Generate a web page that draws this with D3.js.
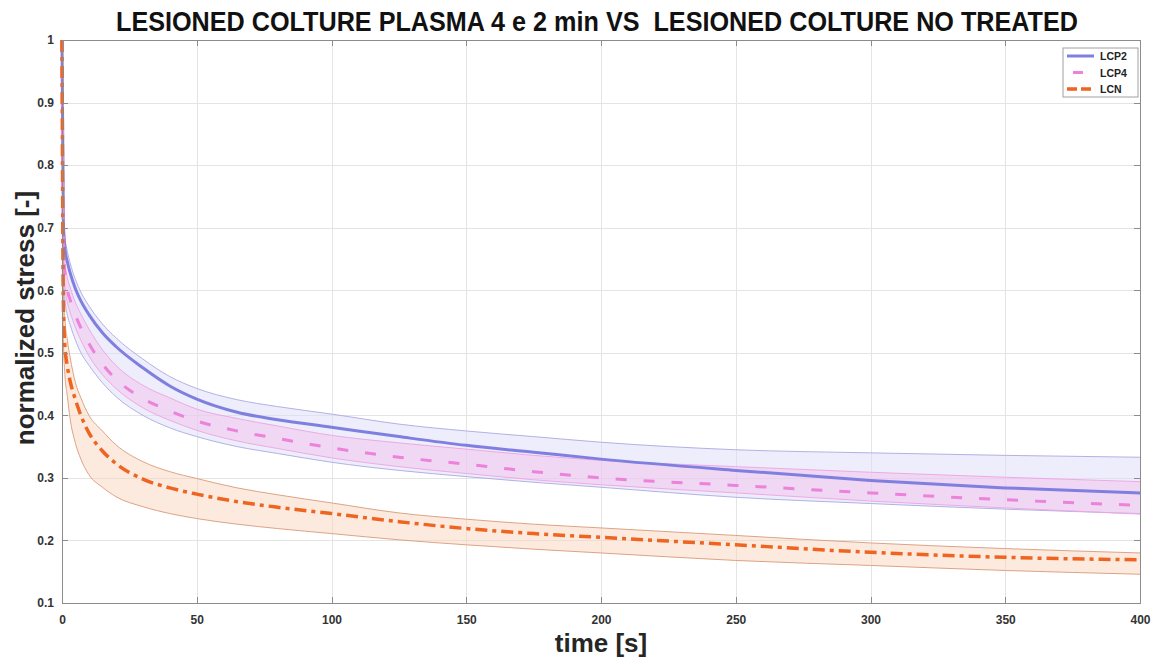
<!DOCTYPE html>
<meta charset="utf-8">
<script src="https://d3js.org/d3.v7.min.js"></script>
<style>
body { margin: 0; background: #fff; }
.grid line { stroke: #e4e4e4; shape-rendering: crispEdges; }
.grid path { stroke-width: 0; }
.axis path, .axis line { stroke: #8c8c8c; shape-rendering: crispEdges; }
.axis text { font-family: "Liberation Sans", Arial, sans-serif; font-weight: bold; font-size: 12px; fill: #333; }
</style>
<body>
<script>
// time samples [s]
var time = [0, 0.5, 1, 2, 3, 5, 7, 10, 15, 20, 30, 40, 50, 65, 80, 100, 125, 150, 175, 200, 250, 300, 350, 400];

// LCP2 (plasma 2 min)
var lcp2Mean  = [1.0, 0.71, 0.67, 0.645, 0.628, 0.602, 0.583, 0.561, 0.532, 0.51, 0.476, 0.447, 0.426, 0.405, 0.393, 0.381, 0.366, 0.352, 0.341, 0.330, 0.312, 0.296, 0.284, 0.276];
var lcp2Upper = [1.0, 0.73, 0.69, 0.662, 0.644, 0.617, 0.597, 0.575, 0.546, 0.524, 0.49, 0.462, 0.443, 0.425, 0.414, 0.402, 0.386, 0.375, 0.366, 0.357, 0.345, 0.340, 0.336, 0.333];
var lcp2Lower = [1.0, 0.64, 0.59, 0.56, 0.545, 0.52, 0.5, 0.48, 0.452, 0.43, 0.4, 0.38, 0.366, 0.35, 0.339, 0.325, 0.312, 0.302, 0.293, 0.285, 0.269, 0.259, 0.25, 0.243];

// LCP4 (plasma 4 min)
var lcp4Mean  = [1.0, 0.69, 0.63, 0.60, 0.585, 0.56, 0.54, 0.515, 0.482, 0.458, 0.427, 0.407, 0.391, 0.375, 0.363, 0.348, 0.333, 0.322, 0.31, 0.300, 0.288, 0.276, 0.265, 0.256];
var lcp4Upper = [1.0, 0.71, 0.65, 0.62, 0.605, 0.58, 0.562, 0.538, 0.505, 0.48, 0.448, 0.428, 0.41, 0.395, 0.383, 0.368, 0.356, 0.346, 0.336, 0.328, 0.318, 0.309, 0.301, 0.294];
var lcp4Lower = [1.0, 0.67, 0.61, 0.58, 0.565, 0.54, 0.52, 0.495, 0.465, 0.443, 0.412, 0.392, 0.376, 0.359, 0.347, 0.332, 0.318, 0.307, 0.297, 0.289, 0.276, 0.263, 0.252, 0.242];

// LCN (not treated)
var lcnMean  = [1.0, 0.58, 0.515, 0.478, 0.455, 0.425, 0.4, 0.372, 0.343, 0.323, 0.298, 0.284, 0.274, 0.262, 0.253, 0.243, 0.23, 0.219, 0.211, 0.205, 0.193, 0.181, 0.173, 0.169];
var lcnUpper = [1.0, 0.61, 0.56, 0.52, 0.493, 0.452, 0.428, 0.4, 0.375, 0.353, 0.326, 0.31, 0.299, 0.284, 0.273, 0.26, 0.244, 0.234, 0.226, 0.22, 0.208, 0.196, 0.187, 0.18];
var lcnLower = [1.0, 0.52, 0.47, 0.43, 0.395, 0.355, 0.33, 0.305, 0.285, 0.27, 0.254, 0.243, 0.235, 0.226, 0.219, 0.211, 0.201, 0.193, 0.186, 0.18, 0.168, 0.16, 0.152, 0.146];

var xTicks = [0, 50, 100, 150, 200, 250, 300, 350, 400];
var yTicks = [0.1, 0.2, 0.3, 0.4, 0.5, 0.6, 0.7, 0.8, 0.9, 1];
var seriesNames = ["LCP2", "LCP4", "LCN"];

var margin = {top: 40, right: 22, bottom: 61, left: 62};
var width = 1162 - margin.left - margin.right;
var height = 664 - margin.top - margin.bottom;

var svg = d3.select("body").append("svg")
    .attr("width", 1162)
    .attr("height", 664);
var g = svg.append("g")
    .attr("transform", "translate(" + margin.left + "," + margin.top + ")");

var x = d3.scaleLinear().domain([0, 400]).range([0, width]);
var y = d3.scaleLinear().domain([0.1, 1]).range([height, 0]);

// grid
g.append("g").attr("class", "grid")
    .attr("transform", "translate(0," + height + ")")
    .call(d3.axisBottom(x).tickValues(xTicks).tickSize(-height).tickFormat(""));
g.append("g").attr("class", "grid")
    .call(d3.axisLeft(y).tickValues(yTicks).tickSize(-width).tickFormat(""));

g.append("clipPath").attr("id", "clip")
    .append("rect").attr("x", -2).attr("y", -2).attr("width", width + 2).attr("height", height + 2);

var plot = g.append("g").attr("clip-path", "url(#clip)");

function band(upper, lower) {
    return d3.area()
        .x(function(d, i) { return x(time[i]); })
        .y0(function(d, i) { return y(lower[i]); })
        .y1(function(d, i) { return y(upper[i]); })
        .curve(d3.curveMonotoneX)(time);
}
function line(vals) {
    return d3.line()
        .x(function(d, i) { return x(time[i]); })
        .y(function(d, i) { return y(vals[i]); })
        .curve(d3.curveMonotoneX)(time);
}

var bands = [
    {up: lcp2Upper, lo: lcp2Lower, fill: "#dcdcf7", edge: "#a9a9e3", op: 0.5},
    {up: lcp4Upper, lo: lcp4Lower, fill: "#f5bdec", edge: "#eea3e2", op: 0.45},
    {up: lcnUpper, lo: lcnLower, fill: "#fbd6bf", edge: "#d89a78", op: 0.5}
];
bands.forEach(function(b) {
    plot.append("path").attr("d", band(b.up, b.lo))
        .attr("fill", b.fill).attr("fill-opacity", b.op).attr("stroke", "none");
    plot.append("path").attr("d", line(b.up))
        .attr("fill", "none").attr("stroke", b.edge).attr("stroke-width", 0.9);
    plot.append("path").attr("d", line(b.lo))
        .attr("fill", "none").attr("stroke", b.edge).attr("stroke-width", 0.9);
});

var lines = [
    {vals: lcp2Mean, color: "#7f7fe0", dash: null, w: 3},
    {vals: lcp4Mean, color: "#ec82d9", dash: "11,17", w: 3},
    {vals: lcnMean, color: "#ee6420", dash: "12,5,4,5", w: 3.5}
];
lines.forEach(function(l) {
    plot.append("path").attr("d", line(l.vals))
        .attr("fill", "none").attr("stroke", l.color)
        .attr("stroke-width", l.w)
        .attr("stroke-dasharray", l.dash);
});

// axes (box with inward ticks)
var xAx = g.append("g").attr("class", "axis")
    .attr("transform", "translate(0," + height + ")")
    .call(d3.axisBottom(x).tickValues(xTicks).tickSizeInner(-6).tickSizeOuter(0).tickPadding(12));
xAx.selectAll("text").attr("dy", "0.71em");
g.append("g").attr("class", "axis")
    .call(d3.axisTop(x).tickValues(xTicks).tickSizeInner(-6).tickSizeOuter(0).tickFormat(""));
var yAx = g.append("g").attr("class", "axis")
    .call(d3.axisLeft(y).tickValues(yTicks).tickSizeInner(-6).tickSizeOuter(0).tickPadding(8)
        .tickFormat(function(d) { return d === 1 ? "1" : d3.format(".1f")(d); }));
g.append("g").attr("class", "axis")
    .attr("transform", "translate(" + width + ",0)")
    .call(d3.axisRight(y).tickValues(yTicks).tickSizeInner(-6).tickSizeOuter(0).tickFormat(""));

// legend
var leg = g.append("g").attr("transform", "translate(" + (width - 77) + ",8)");
leg.append("rect").attr("width", 75).attr("height", 49)
    .attr("fill", "#fff").attr("stroke", "#a0a0a0").attr("stroke-width", 1);
lines.forEach(function(l, i) {
    var yy = 8 + i * 16.5;
    leg.append("line").attr("x1", 4).attr("x2", 31).attr("y1", yy).attr("y2", yy)
        .attr("stroke", l.color).attr("stroke-width", l.w)
        .attr("stroke-dasharray", i === 1 ? "0,6,10,20" : (i === 2 ? "10,4,10,4" : null));
    leg.append("text").attr("x", 37).attr("y", yy + 4)
        .attr("font-family", "Liberation Sans, Arial, sans-serif")
        .attr("font-weight", "bold").attr("font-size", "10.5px").attr("fill", "#222")
        .text(seriesNames[i]);
});

// title and axis labels
svg.append("text")
    .attr("x", 597).attr("y", 31)
    .attr("text-anchor", "middle")
    .attr("font-family", "Liberation Sans Narrow, Arial Narrow, sans-serif")
    .attr("font-weight", "bold").attr("font-size", "27px")
    .attr("fill", "#111")
    .style("white-space", "pre")
    .attr("textLength", 962).attr("lengthAdjust", "spacingAndGlyphs")
    .text("LESIONED COLTURE PLASMA 4 e 2 min VS  LESIONED COLTURE NO TREATED");

svg.append("text")
    .attr("x", 601).attr("y", 652)
    .attr("text-anchor", "middle")
    .attr("font-family", "Liberation Sans, Arial, sans-serif")
    .attr("font-weight", "bold").attr("font-size", "26px")
    .attr("fill", "#262626")
    .text("time [s]");

svg.append("text")
    .attr("transform", "rotate(-90)")
    .attr("x", -318).attr("y", 34)
    .attr("text-anchor", "middle")
    .attr("font-family", "Liberation Sans, Arial, sans-serif")
    .attr("font-weight", "bold").attr("font-size", "26px")
    .attr("fill", "#262626")
    .text("normalized stress [-]");
</script>
</body>
